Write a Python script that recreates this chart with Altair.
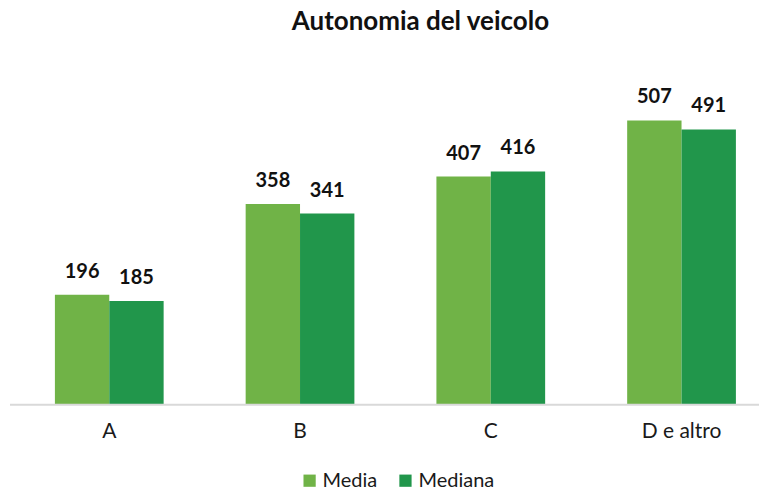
import altair as alt
import pandas as pd

categories = ["A", "B", "C", "D e altro"]
series = ["Media", "Mediana"]
media = [196, 358, 407, 507]
mediana = [185, 341, 416, 491]
colors = ["#70B347", "#21964B"]

rows = []
for c, a, b in zip(categories, media, mediana):
    rows.append({"cat": c, "serie": "Media", "val": a})
    rows.append({"cat": c, "serie": "Mediana", "val": b})
df = pd.DataFrame(rows)

H = 337
FONT = "Lato"

x = alt.X("cat:N", sort=categories, title=None,
          scale=alt.Scale(paddingInner=0.43, paddingOuter=0.1835, align=0.67),
          axis=alt.Axis(labelAngle=0, domain=False, ticks=False, labelFontSize=21,
                        labelFont=FONT, labelColor="#1a1a1a", labelPadding=16))
xo = alt.XOffset("serie:N", sort=series, scale=alt.Scale(paddingInner=0, paddingOuter=0))
y = alt.Y("val:Q", scale=alt.Scale(domain=[0, 600]), axis=None)

bars = alt.Chart(df).mark_bar().encode(
    x=x, xOffset=xo, y=y,
    color=alt.Color("serie:N", sort=series,
                    scale=alt.Scale(domain=series, range=colors),
                    legend=alt.Legend(title=None, orient="none", direction="horizontal",
                                      legendX=292, legendY=403, symbolType="square",
                                      symbolSize=150, symbolStrokeWidth=0,
                                      labelFontSize=20, labelFont=FONT,
                                      labelColor="#1a1a1a", columnPadding=18,
                                      labelOffset=3)),
)

labels = alt.Chart(df).mark_text(
    font=FONT, fontSize=20, fontWeight="bold", color="#111111",
    baseline="alphabetic", dy=-17
).encode(x=x, xOffset=xo, y=y, text=alt.Text("val:Q"))

base = alt.Chart(alt.Data(values=[{}])).mark_rule(color="#d9d9d9", strokeWidth=2).encode(
    x=alt.value(2), x2=alt.value(752), y=alt.value(H)
)

chart = alt.layer(bars, labels, base).properties(
    width=752, height=H,
    padding={"left": 0, "right": 0, "top": 1, "bottom": 0},
    title=alt.Title("Autonomia del veicolo", font=FONT, fontSize=26, fontWeight="bold",
                    color="#111111", anchor="middle", offset=33, dx=37),
).configure_view(stroke=None)

chart.save("out.html", embed_options={"renderer": "svg", "actions": False})
